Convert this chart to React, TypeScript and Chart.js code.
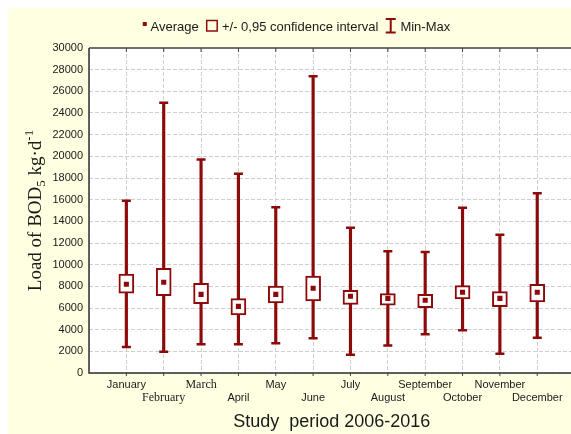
import React, { useEffect, useRef } from "react";
import { Chart, registerables } from "chart.js";
Chart.register(...registerables);

const MONTHS = ["January", "February", "March", "April", "May", "June", "July", "August", "September", "October", "November", "December"];
const MEANS = [8190, 8370, 7260, 6150, 7260, 7820, 7080, 6890, 6710, 7450, 6890, 7450];
const CI_LOW = [7360, 7140, 6400, 5350, 6460, 6650, 6340, 6250, 6030, 6830, 6120, 6550];
const CI_HIGH = [9140, 9660, 8280, 6860, 8030, 8950, 7630, 7320, 7260, 8060, 7510, 8190];
const MINS = [2400, 1970, 2650, 2650, 2740, 3200, 1690, 2550, 3570, 3940, 1780, 3260];
const MAXS = [15900, 24950, 19700, 18400, 15300, 27400, 13400, 11230, 11170, 15260, 12770, 16600];
const Y_MIN = 0;
const Y_MAX = 30000;
const Y_STEP = 2000;
const SERIF_MONTHS = ["February", "March"];
const LEGEND_LABELS = ["Average", "+/- 0,95 confidence interval", "Min-Max"];
const X_TITLE = "Study  period 2006-2016";
const Y_TITLE_PARTS = ["Load of BOD", "5", " kg\u00b7d", "-1"];

const RED = "#8c0a0a";
const GRID = "#cfcfcf";
const SANS = "'Liberation Sans', Arial, sans-serif";
const SERIF = "'Liberation Serif', 'Times New Roman', serif";

const pad = (a: any[]) => [null, ...a, null];

export default function App() {
  const ref = useRef<HTMLCanvasElement>(null);
  useEffect(() => {
    const canvas = ref.current!;
    const labels = ["", ...MONTHS, ""];

    const plugin = {
      id: "custom",
      beforeDraw(chart: any) {
        const { ctx, chartArea: a } = chart;
        ctx.save();
        ctx.fillStyle = "#ffffff";
        ctx.fillRect(a.left, a.top, a.right - a.left, a.bottom - a.top);
        ctx.restore();
      },
      afterDatasetsDraw(chart: any) {
        const { ctx, chartArea: a } = chart;
        const meta = chart.getDatasetMeta(2);
        const raw = chart.data.datasets[2].data;
        ctx.save();
        ctx.strokeStyle = RED;
        ctx.lineWidth = 2.5;
        meta.data.forEach((el: any, i: number) => {
          if (!raw[i]) return;
          const { x, y, base } = el.getProps(["x", "y", "base"], true);
          ctx.beginPath();
          ctx.moveTo(x - 4.5, y);
          ctx.lineTo(x + 4.5, y);
          ctx.moveTo(x - 4.5, base);
          ctx.lineTo(x + 4.5, base);
          ctx.stroke();
        });
        ctx.restore();
        ctx.save();
        ctx.strokeStyle = "#707070";
        ctx.lineWidth = 2;
        ctx.beginPath();
        ctx.moveTo(a.left, a.top);
        ctx.lineTo(a.right, a.top);
        ctx.stroke();
        ctx.strokeStyle = "#303030";
        ctx.lineWidth = 1.5;
        ctx.beginPath();
        ctx.moveTo(a.left, a.top);
        ctx.lineTo(a.left, a.bottom);
        ctx.lineTo(a.right, a.bottom);
        ctx.stroke();
        const xs = chart.scales.x;
        ctx.strokeStyle = "#404040";
        ctx.lineWidth = 1;
        for (let i = 1; i <= MONTHS.length; i++) {
          const px = xs.getPixelForValue(i);
          ctx.beginPath();
          ctx.moveTo(px, a.top);
          ctx.lineTo(px, a.top + 4);
          ctx.moveTo(px, a.bottom);
          ctx.lineTo(px, a.bottom + 3);
          ctx.stroke();
        }
        ctx.restore();
      },
      afterDraw(chart: any) {
        const { ctx, chartArea: a, width } = chart;
        ctx.save();
        ctx.font = "13px " + SANS;
        ctx.fillStyle = "#1a1a1a";
        ctx.textBaseline = "alphabetic";
        const wA = ctx.measureText(LEGEND_LABELS[0]).width;
        const wB = ctx.measureText(LEGEND_LABELS[1]).width;
        const wC = ctx.measureText(LEGEND_LABELS[2]).width;
        const total = 4 + 3.7 + wA + 7.3 + 12 + 4 + wB + 7.3 + 10 + 4.7 + wC;
        let x = width / 2 - total / 2;
        const base = 22.7;
        ctx.fillStyle = RED;
        ctx.fillRect(x, 14, 4, 4);
        x += 4 + 3.7;
        ctx.fillStyle = "#1a1a1a";
        ctx.fillText(LEGEND_LABELS[0], x, base);
        x += wA + 7.3;
        ctx.strokeStyle = RED;
        ctx.lineWidth = 1.5;
        ctx.strokeRect(x + 0.75, 12.5, 10.5, 10.5);
        x += 12 + 4;
        ctx.fillText(LEGEND_LABELS[1], x, base);
        x += wB + 7.3;
        ctx.lineWidth = 2;
        ctx.beginPath();
        ctx.moveTo(x, 11);
        ctx.lineTo(x + 10, 11);
        ctx.moveTo(x + 5, 11);
        ctx.lineTo(x + 5, 24.5);
        ctx.moveTo(x, 24.5);
        ctx.lineTo(x + 10, 24.5);
        ctx.stroke();
        x += 10 + 4.7;
        ctx.fillText(LEGEND_LABELS[2], x, base);
        ctx.restore();

        ctx.save();
        const cy = (a.top + a.bottom) / 2;
        ctx.translate(33, cy);
        ctx.rotate(-Math.PI / 2);
        ctx.fillStyle = "#1a1a1a";
        ctx.textBaseline = "alphabetic";
        const big = "19px " + SERIF;
        const small = "13px " + SERIF;
        ctx.font = big;
        const w0 = ctx.measureText(Y_TITLE_PARTS[0]).width;
        const w2 = ctx.measureText(Y_TITLE_PARTS[2]).width;
        ctx.font = small;
        const w1 = ctx.measureText(Y_TITLE_PARTS[1]).width;
        const w3 = ctx.measureText(Y_TITLE_PARTS[3]).width;
        const tw = w0 + w1 + w2 + w3;
        let tx = -tw / 2;
        ctx.font = big;
        ctx.fillText(Y_TITLE_PARTS[0], tx, 0);
        tx += w0;
        ctx.font = small;
        ctx.fillText(Y_TITLE_PARTS[1], tx, 4);
        tx += w1;
        ctx.font = big;
        ctx.fillText(Y_TITLE_PARTS[2], tx, 0);
        tx += w2;
        ctx.font = small;
        ctx.fillText(Y_TITLE_PARTS[3], tx, -8);
        ctx.restore();
      },
    };

    const chart = new Chart(canvas, {
      type: "bar",
      data: {
        labels,
        datasets: [
          {
            type: "line",
            label: "Average",
            data: pad(MEANS),
            showLine: false,
            pointStyle: "rect",
            pointRadius: 3.6,
            pointBackgroundColor: RED,
            pointBorderWidth: 0,
            borderColor: RED,
          } as any,
          {
            type: "bar",
            label: "+/- 0,95 confidence interval",
            data: pad(CI_LOW.map((v, i) => [v, CI_HIGH[i]])),
            backgroundColor: "#ffffff",
            borderColor: RED,
            borderWidth: 2,
            borderSkipped: false,
            barThickness: 15,
            grouped: false,
          } as any,
          {
            type: "bar",
            label: "Min-Max",
            data: pad(MINS.map((v, i) => [v, MAXS[i]])),
            backgroundColor: RED,
            borderWidth: 0,
            barThickness: 2.5,
            grouped: false,
          } as any,
        ],
      },
      options: {
        responsive: false,
        animation: false,
        devicePixelRatio: 1,
        layout: { padding: { left: 0, right: 10.4, top: 40, bottom: 0 } },
        plugins: { legend: { display: false }, tooltip: { enabled: false }, title: { display: false } },
        scales: {
          x: {
            type: "category",
            offset: false,
            grid: { offset: false, color: GRID, lineWidth: 1, drawTicks: false },
            border: { display: false, dash: [4, 2] },
            ticks: {
              autoSkip: false,
              maxRotation: 0,
              minRotation: 0,
              padding: 5,
              color: "#1a1a1a",
              font: (ctx: any) => {
                const name = labels[ctx.index] || "";
                return SERIF_MONTHS.includes(name)
                  ? { family: SERIF, size: 12, lineHeight: "13px" }
                  : { family: SANS, size: 11, lineHeight: "13px" };
              },
              callback: (_v: any, i: number) => {
                const name = labels[i];
                if (!name) return "";
                return (i - 1) % 2 === 1 ? ["", name] : name;
              },
            },
            title: {
              display: true,
              text: X_TITLE,
              color: "#1a1a1a",
              font: { family: SANS, size: 18 },
              padding: { top: 0, bottom: 1 },
            },
            afterFit: (s: any) => {
              s.height = 61;
            },
          } as any,
          y: {
            min: Y_MIN,
            max: Y_MAX,
            grid: { color: GRID, lineWidth: 1, drawTicks: false },
            border: { display: false, dash: [4, 2] },
            ticks: {
              stepSize: Y_STEP,
              padding: 6,
              color: "#1a1a1a",
              font: { family: SANS, size: 11 },
              callback: (v: any) => String(v),
            },
            afterFit: (s: any) => {
              s.width = 81;
            },
          } as any,
        },
      },
      plugins: [plugin],
    });
    return () => chart.destroy();
  }, []);

  return (
    <div
      style={{
        position: "fixed",
        left: 8,
        top: 8,
        width: 563,
        height: 426,
        overflow: "hidden",
        background: "#ffffe1",
      }}
    >
      <canvas ref={ref} width={577} height={426} style={{ width: 577, height: 426, display: "block" }} />
    </div>
  );
}
